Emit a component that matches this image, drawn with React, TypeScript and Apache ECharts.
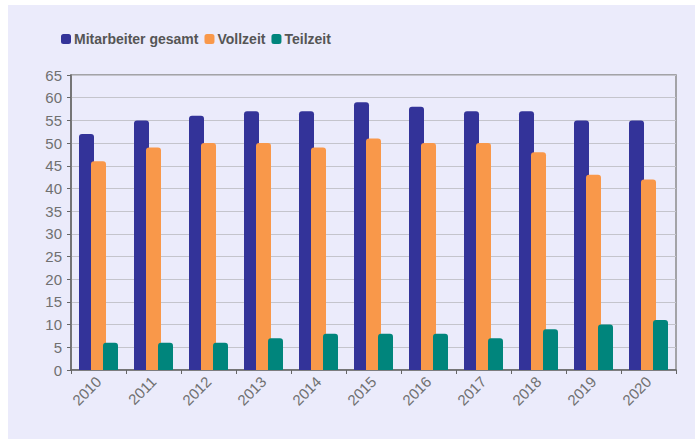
import React, { useEffect, useRef } from "react";
import * as echarts from "echarts";

const years = ["2010", "2011", "2012", "2013", "2014", "2015", "2016", "2017", "2018", "2019", "2020"];
const gesamt = [52, 55, 56, 57, 57, 59, 58, 57, 57, 55, 55];
const vollzeit = [46, 49, 50, 50, 49, 51, 50, 50, 48, 43, 42];
const teilzeit = [6, 6, 6, 7, 8, 8, 8, 7, 9, 10, 11];
const seriesNames = ["Mitarbeiter gesamt", "Vollzeit", "Teilzeit"];
const colors = ["#333399", "#f9984a", "#00857c"];
const FONT = "Liberation Sans";

export default function App() {
  const ref = useRef<HTMLDivElement>(null);
  useEffect(() => {
    if (!ref.current) return;
    const chart = echarts.init(ref.current, undefined, { renderer: "svg" });
    const datasets = [gesamt, vollzeit, teilzeit];
    chart.setOption({
      animation: false,
      backgroundColor: "#ffffff",
      graphic: [
        {
          type: "rect",
          z: -10,
          shape: { x: 8, y: 5, width: 687, height: 434 },
          style: { fill: "#ebebfb" },
          silent: true,
        },
      ],
      textStyle: { fontFamily: FONT },
      legend: {
        left: 56,
        top: 27,
        itemWidth: 10,
        itemHeight: 10,
        itemGap: 6,
        icon: "roundRect",
        textStyle: {
          fontSize: 14,
          fontWeight: "bold",
          fontFamily: FONT,
          color: "#555555",
          padding: [0, 0, 0, -2],
        },
        data: seriesNames,
      },
      grid: {
        left: 71,
        top: 75,
        right: 21,
        bottom: 69,
        show: true,
        borderColor: "#8c8c8c",
        borderWidth: 1.5,
        backgroundColor: "transparent",
      },
      xAxis: {
        type: "category",
        data: years,
        axisLine: { show: true, lineStyle: { color: "#666666", width: 1.5 } },
        axisTick: { show: true, length: 4, lineStyle: { color: "#666666" } },
        axisLabel: { rotate: 45, fontSize: 15, fontFamily: FONT, color: "#707070", margin: 9 },
      },
      yAxis: {
        type: "value",
        min: 0,
        max: 65,
        interval: 5,
        axisLine: { show: true, lineStyle: { color: "#666666", width: 1.5 } },
        axisTick: { show: true, length: 4, lineStyle: { color: "#666666" } },
        axisLabel: { fontSize: 15, fontFamily: FONT, color: "#707070", margin: 9 },
        splitLine: { show: true, lineStyle: { color: "#c4c4cc", width: 1 } },
      },
      series: seriesNames.map((name, i) => ({
        name,
        type: "bar",
        data: datasets[i],
        barWidth: 15,
        barGap: "-20%",
        itemStyle: { color: colors[i], borderRadius: [3, 3, 0, 0] },
      })),
    });
    return () => chart.dispose();
  }, []);
  return (
    <div
      ref={ref}
      style={{ position: "fixed", left: 0, top: 0, width: 697, height: 439 }}
    />
  );
}
